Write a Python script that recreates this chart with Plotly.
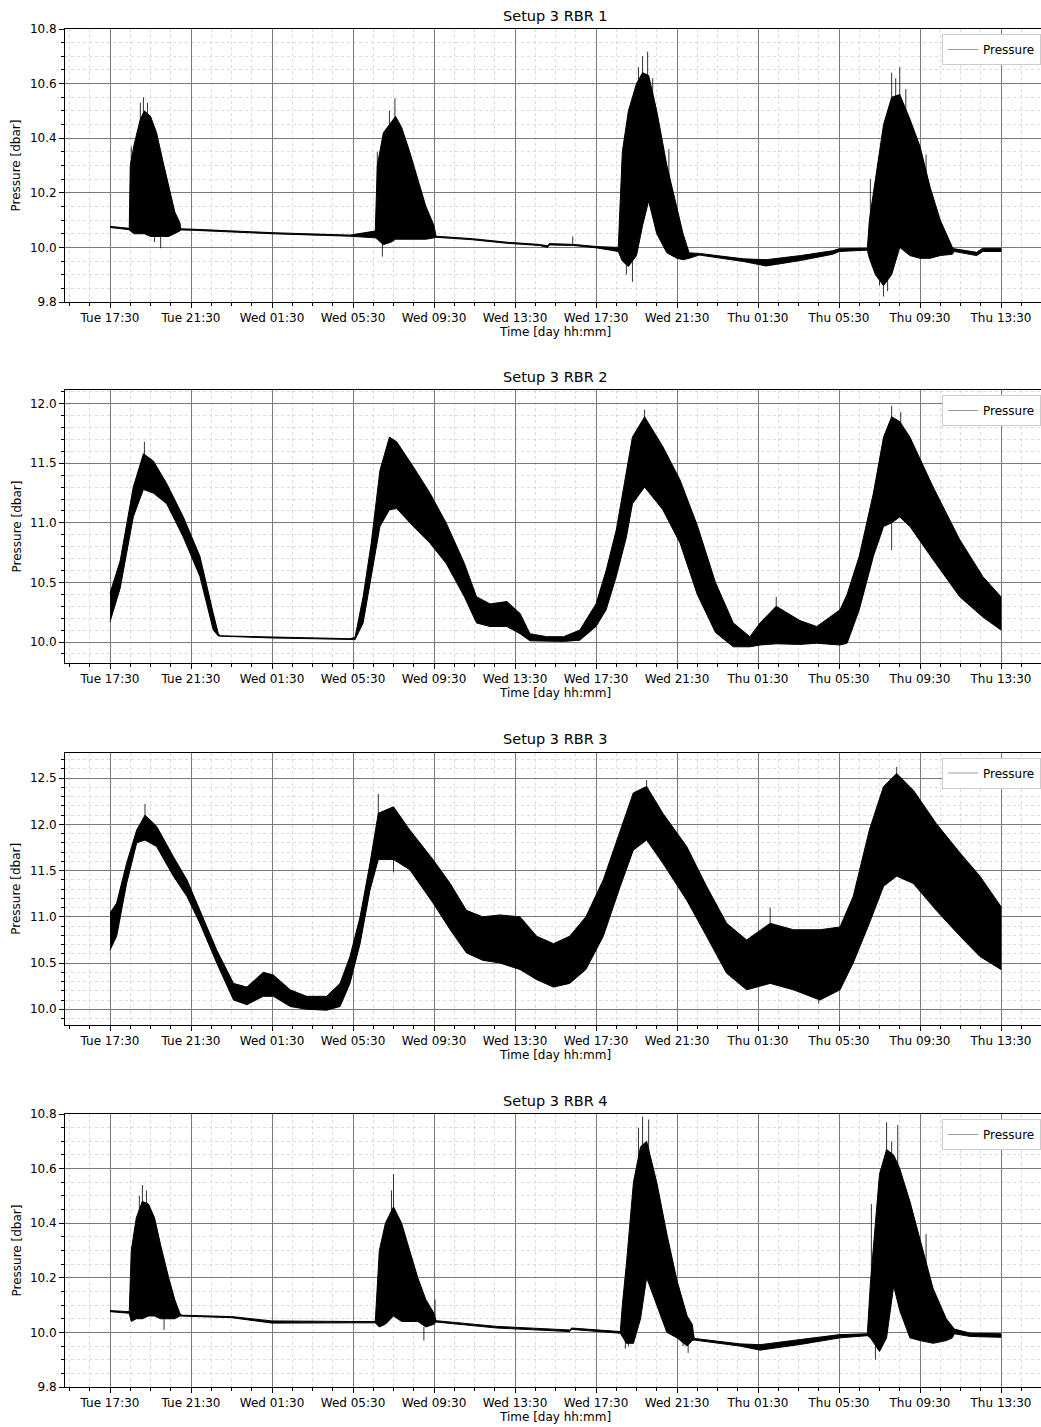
import pandas as pd
import plotly.graph_objects as go

# ---- time base: hours after Tue 17:30 ----
START = pd.Timestamp("2024-01-02 17:30")   # a Tuesday

# ---------------- Setup 3 RBR 1 ----------------
rbr1_t = [0, 0.95, 1.0, 1.2, 1.5, 1.7, 2.0, 2.3, 2.6, 2.9, 3.2, 3.45, 3.5, 4.0, 8.0, 11.85,
          13.1, 13.2, 13.5, 13.9, 14.1, 14.4, 14.8, 15.2, 15.6, 16.0, 16.1, 17.9, 19.6, 21.2,
          21.6, 21.7, 22.9, 24.05, 25.1, 25.3, 25.6, 26.0, 26.3, 26.6, 27.0, 27.5, 28.0, 28.3,
          28.6, 29.1, 31.3, 32.4, 34.1, 35.7, 36.0, 37.4, 37.5, 37.8, 38.2, 38.6, 39.0, 39.5,
          40.0, 40.5, 41.0, 41.6, 41.7, 42.8, 43.1, 44.0]
rbr1_hi = [10.077, 10.070, 10.30, 10.38, 10.47, 10.50, 10.48, 10.42, 10.32, 10.22, 10.13, 10.09,
           10.068, 10.067, 10.054, 10.045, 10.06, 10.30, 10.42, 10.46, 10.48, 10.44, 10.35, 10.25,
           10.15, 10.08, 10.041, 10.032, 10.019, 10.011, 10.006, 10.014, 10.011, 10.003, 10.0,
           10.35, 10.50, 10.60, 10.64, 10.63, 10.50, 10.30, 10.15, 10.05, 9.98, 9.978, 9.958,
           9.955, 9.970, 9.988, 9.995, 9.997, 10.10, 10.25, 10.45, 10.55, 10.56, 10.47, 10.37,
           10.22, 10.10, 10.0, 9.995, 9.982, 9.997, 9.997]
rbr1_lo = [10.073, 10.065, 10.06, 10.05, 10.05, 10.05, 10.04, 10.04, 10.04, 10.04, 10.05, 10.06,
           10.064, 10.063, 10.050, 10.041, 10.035, 10.03, 10.01, 10.02, 10.03, 10.03, 10.03, 10.03,
           10.03, 10.035, 10.037, 10.028, 10.015, 10.007, 10.0, 10.009, 10.007, 9.998, 9.985,
           9.95, 9.93, 9.97, 10.08, 10.17, 10.05, 9.98, 9.96, 9.955, 9.96, 9.972, 9.948, 9.932,
           9.952, 9.975, 9.985, 9.99, 9.96, 9.90, 9.86, 9.90, 10.0, 9.97, 9.96, 9.96, 9.97,
           9.975, 9.985, 9.97, 9.985, 9.985]
rbr1_spike_t = [1.05, 1.5, 1.65, 1.85, 2.2, 2.5, 13.2, 13.45, 13.8, 14.07, 22.85, 25.5, 25.8,
                26.1, 26.3, 26.55, 26.8, 27.6, 37.55, 38.0, 38.2, 38.4, 38.6, 38.8, 39.0, 39.3,
                40.3]
rbr1_spike_lo = [10.20, 10.40, 10.30, 10.40, 10.02, 9.997, 10.20, 9.966, 10.40, 10.30, 10.01,
                 9.90, 9.874, 10.50, 10.50, 10.50, 10.50, 10.20, 10.10, 9.86, 9.82, 9.84, 10.40,
                 10.45, 10.40, 10.40, 10.25]
rbr1_spike_hi = [10.37, 10.53, 10.55, 10.53, 10.04, 10.04, 10.35, 10.02, 10.50, 10.546, 10.04,
                 9.95, 9.95, 10.66, 10.70, 10.717, 10.62, 10.36, 10.25, 9.92, 9.90, 9.90, 10.64,
                 10.62, 10.66, 10.58, 10.34]

# ---------------- Setup 3 RBR 2 ----------------
rbr2_t = [0, 0.5, 1.15, 1.65, 2.14, 2.8, 3.62, 4.44, 5.1, 5.35, 5.45, 8.0, 11.85, 12.1, 12.5,
          12.9, 13.33, 13.8, 14.16, 14.98, 15.8, 16.6, 17.5, 18.1, 18.77, 19.6, 20.25, 20.74,
          21.56, 22.4, 23.2, 24.0, 24.5, 25.0, 25.5, 25.8, 26.4, 27.3, 28.15, 29.0, 29.9, 30.78,
          31.6, 32.1, 32.9, 34.07, 34.9, 36.05, 36.4, 37.0, 37.7, 38.2, 38.6, 39.0, 39.5, 40.65,
          41.96, 43.1, 44.0]
rbr2_hi = [10.41, 10.68, 11.30, 11.58, 11.52, 11.33, 11.05, 10.72, 10.24, 10.07, 10.052, 10.040,
           10.028, 10.04, 10.38, 10.83, 11.44, 11.72, 11.68, 11.47, 11.25, 11.00, 10.66, 10.38,
           10.32, 10.34, 10.24, 10.07, 10.045, 10.045, 10.10, 10.32, 10.60, 10.94, 11.44, 11.72,
           11.89, 11.64, 11.36, 10.98, 10.50, 10.16, 10.045, 10.16, 10.30, 10.18, 10.13, 10.27,
           10.40, 10.72, 11.25, 11.72, 11.89, 11.85, 11.72, 11.30, 10.86, 10.55, 10.38]
rbr2_lo = [10.17, 10.45, 11.05, 11.28, 11.25, 11.16, 10.88, 10.55, 10.10, 10.05, 10.046, 10.034,
           10.022, 10.02, 10.16, 10.55, 10.97, 11.11, 11.12, 10.97, 10.83, 10.66, 10.38, 10.16,
           10.13, 10.13, 10.07, 10.01, 10.005, 10.005, 10.015, 10.13, 10.27, 10.55, 10.88, 11.16,
           11.30, 11.11, 10.83, 10.40, 10.08, 9.96, 9.96, 9.975, 9.985, 9.98, 9.99, 9.975, 9.99,
           10.27, 10.72, 10.97, 11.00, 11.05, 10.97, 10.69, 10.38, 10.21, 10.10]
rbr2_spike_t = [1.7, 26.4, 32.9, 38.6, 38.6, 39.05]
rbr2_spike_lo = [11.50, 11.70, 10.20, 10.77, 11.80, 11.70]
rbr2_spike_hi = [11.68, 11.95, 10.38, 11.00, 11.98, 11.93]

# ---------------- Setup 3 RBR 3 ----------------
rbr3_t = [0, 0.33, 0.82, 1.32, 1.73, 2.3, 3.13, 3.8, 4.44, 5.27, 6.1, 6.76, 7.57, 8.07, 8.9,
          9.71, 10.7, 11.36, 11.85, 12.35, 12.84, 13.25, 14.0, 14.8, 15.95, 16.8, 17.6, 18.4,
          19.26, 20.25, 21.07, 21.9, 22.7, 23.5, 24.36, 25.2, 25.84, 26.5, 27.3, 28.48, 29.46,
          30.45, 31.44, 32.6, 33.75, 35.06, 36.05, 36.7, 37.5, 38.2, 38.85, 39.67, 40.8, 41.98,
          42.96, 44.0]
rbr3_hi = [11.04, 11.15, 11.58, 11.94, 12.10, 11.98, 11.65, 11.40, 11.07, 10.64, 10.28, 10.24,
           10.40, 10.37, 10.21, 10.14, 10.14, 10.28, 10.57, 11.00, 11.58, 12.12, 12.19, 11.94,
           11.62, 11.36, 11.07, 11.00, 11.02, 11.00, 10.79, 10.71, 10.79, 11.00, 11.40, 11.94,
           12.34, 12.41, 12.12, 11.76, 11.33, 10.93, 10.75, 10.93, 10.86, 10.86, 10.89, 11.22,
           11.94, 12.41, 12.55, 12.37, 12.01, 11.69, 11.44, 11.11]
rbr3_lo = [10.64, 10.79, 11.36, 11.80, 11.83, 11.76, 11.44, 11.22, 10.93, 10.50, 10.10, 10.05,
           10.14, 10.14, 10.03, 10.00, 9.99, 10.03, 10.28, 10.71, 11.29, 11.62, 11.62, 11.51,
           11.15, 10.86, 10.61, 10.53, 10.50, 10.43, 10.32, 10.24, 10.28, 10.43, 10.79, 11.33,
           11.72, 11.83, 11.58, 11.18, 10.79, 10.39, 10.21, 10.28, 10.21, 10.10, 10.21, 10.50,
           10.93, 11.33, 11.44, 11.36, 11.07, 10.79, 10.57, 10.43]
rbr3_spike_t = [1.73, 13.25, 14.0, 26.5, 32.6, 35.0, 38.85]
rbr3_spike_lo = [12.00, 12.10, 11.48, 12.30, 10.90, 10.06, 12.50]
rbr3_spike_hi = [12.22, 12.33, 11.70, 12.48, 11.10, 10.15, 12.62]

# ---------------- Setup 3 RBR 4 ----------------
rbr4_t = [0, 0.95, 1.05, 1.3, 1.6, 1.9, 2.2, 2.5, 2.9, 3.2, 3.45, 3.55, 6.0, 8.0, 11.85, 13.1,
          13.3, 13.6, 14.0, 14.4, 14.8, 15.2, 15.6, 16.0, 16.1, 19.1, 22.7, 22.8, 25.2, 25.3,
          25.5, 25.85, 26.2, 26.5, 27.0, 27.5, 28.0, 28.5, 28.75, 28.85, 31.1, 32.1, 34.1, 36.05,
          37.4, 37.55, 38.0, 38.35, 38.7, 39.0, 39.5, 40.0, 40.65, 41.3, 41.6, 41.7, 42.5, 44.0]
rbr4_hi = [10.080, 10.076, 10.30, 10.42, 10.48, 10.47, 10.42, 10.32, 10.20, 10.12, 10.07, 10.063,
           10.058, 10.042, 10.040, 10.040, 10.30, 10.40, 10.46, 10.40, 10.30, 10.20, 10.12, 10.07,
           10.043, 10.022, 10.009, 10.016, 10.003, 10.10, 10.25, 10.55, 10.68, 10.70, 10.55, 10.36,
           10.19, 10.06, 10.03, 9.978, 9.958, 9.955, 9.974, 9.992, 9.995, 10.18, 10.58, 10.67,
           10.65, 10.60, 10.48, 10.34, 10.16, 10.05, 10.02, 10.012, 9.997, 9.995]
rbr4_lo = [10.076, 10.070, 10.04, 10.05, 10.05, 10.06, 10.06, 10.05, 10.05, 10.05, 10.06, 10.058,
           10.054, 10.034, 10.035, 10.035, 10.02, 10.03, 10.06, 10.04, 10.04, 10.04, 10.02, 10.03,
           10.038, 10.016, 10.003, 10.011, 9.997, 9.984, 9.96, 9.96, 10.05, 10.20, 10.10, 10.00,
           9.98, 9.95, 9.97, 9.972, 9.950, 9.935, 9.956, 9.980, 9.988, 9.98, 9.93, 9.98, 10.17,
           10.08, 9.98, 9.97, 9.96, 9.97, 9.98, 9.995, 9.985, 9.982]
rbr4_spike_t = [1.45, 1.6, 1.8, 2.67, 13.9, 14.0, 15.5, 16.05, 25.45, 25.6, 26.1, 26.3, 26.6,
                28.3, 28.55, 37.6, 37.8, 38.35, 38.6, 38.9, 40.3]
rbr4_spike_lo = [10.35, 10.40, 10.40, 10.009, 10.35, 10.40, 9.97, 10.05, 9.94, 9.948, 10.60, 10.60,
                 10.60, 9.95, 9.925, 10.10, 9.90, 10.60, 10.55, 10.60, 10.25]
rbr4_spike_hi = [10.50, 10.54, 10.52, 10.05, 10.52, 10.58, 10.02, 10.12, 9.99, 9.99, 10.75, 10.79,
                 10.78, 9.98, 9.96, 10.47, 9.95, 10.77, 10.70, 10.76, 10.36]

panels = [
    ("Setup 3 RBR 1", rbr1_t, rbr1_hi, rbr1_lo, rbr1_spike_t, rbr1_spike_lo, rbr1_spike_hi),
    ("Setup 3 RBR 2", rbr2_t, rbr2_hi, rbr2_lo, rbr2_spike_t, rbr2_spike_lo, rbr2_spike_hi),
    ("Setup 3 RBR 3", rbr3_t, rbr3_hi, rbr3_lo, rbr3_spike_t, rbr3_spike_lo, rbr3_spike_hi),
    ("Setup 3 RBR 4", rbr4_t, rbr4_hi, rbr4_lo, rbr4_spike_t, rbr4_spike_lo, rbr4_spike_hi),
]

# axis settings per panel: y range, major step, minor step
y_ranges = [[9.8, 10.8], [9.824, 12.115], [9.83, 12.777], [9.8, 10.8]]
y_major = [0.2, 0.5, 0.5, 0.2]
y_minor = [0.05, 0.1, 0.1, 0.05]
y_tick0 = [9.8, 10.0, 10.0, 9.8]

# ---- page geometry (pixels) ----
W, H = 1041, 1427
LEFT = 65
PX_PER_HOUR = 20.25
TICK_ORIGIN_PX = 110           # where Tue 17:30 sits
panel_top = [29, 390, 752.5, 1114]
panel_bot = [302, 663, 1025, 1387]

def hours_to_time(hours):
    return START + pd.to_timedelta(hours, unit="h")

x_lo = hours_to_time((LEFT - TICK_ORIGIN_PX) / PX_PER_HOUR)
x_hi = hours_to_time((W - TICK_ORIGIN_PX) / PX_PER_HOUR)

FONT = "DejaVu Sans"
fig = go.Figure()
annotations = []
layout = {}

for i, (title, t, hi, lo, st, slo, shi) in enumerate(panels):
    n = i + 1
    assert len(t) == len(hi) == len(lo), title
    assert len(st) == len(slo) == len(shi), title
    xa = "x" if n == 1 else f"x{n}"
    ya = "y" if n == 1 else f"y{n}"
    leg = "legend" if n == 1 else f"legend{n}"

    times = list(hours_to_time(pd.Series(t)))
    # envelope of the pressure record drawn as a filled band
    fig.add_trace(go.Scatter(
        x=times + times[::-1], y=list(hi) + list(lo)[::-1],
        mode="lines", fill="toself", fillcolor="black",
        line=dict(color="black", width=1), hoverinfo="skip",
        showlegend=False, xaxis=xa, yaxis=ya))

    # individual wave spikes
    sx, sy = [], []
    stimes = list(hours_to_time(pd.Series(st)))
    for tt, a, b in zip(stimes, slo, shi):
        sx += [tt, tt, None]
        sy += [a, b, None]
    fig.add_trace(go.Scatter(x=sx, y=sy, mode="lines",
                             line=dict(color="rgba(0,0,0,0.8)", width=1),
                             showlegend=False, hoverinfo="skip",
                             xaxis=xa, yaxis=ya))

    # legend entry
    fig.add_trace(go.Scatter(x=[None], y=[None], mode="lines", name="Pressure",
                             line=dict(color="#9a9a9a", width=1),
                             legend=leg, xaxis=xa, yaxis=ya))

    dom = [1 - panel_bot[i] / H, 1 - panel_top[i] / H]
    xkey = "xaxis" if n == 1 else f"xaxis{n}"
    ykey = "yaxis" if n == 1 else f"yaxis{n}"
    layout[xkey] = dict(
        domain=[0, 1], anchor=ya, type="date", range=[x_lo, x_hi],
        tick0=START, dtick=4 * 3600 * 1000, tickformat="%a %H:%M",
        ticks="outside", ticklen=5, tickwidth=1, tickcolor="black",
        showline=True, linecolor="black", linewidth=1, mirror=True,
        showgrid=True, gridcolor="#7a7a7a", gridwidth=1.2,
        tickfont=dict(family=FONT, size=12, color="black"),
        minor=dict(dtick=3600 * 1000, tick0=START, ticks="outside", ticklen=3,
                   tickcolor="black", showgrid=True, gridcolor="#dcdcdc",
                   griddash="dot", gridwidth=1),
        zeroline=False, automargin=False, fixedrange=True)
    layout[ykey] = dict(
        domain=dom, anchor=xa, range=y_ranges[i],
        tick0=y_tick0[i], dtick=y_major[i], tickformat=".1f",
        ticks="outside", ticklen=5, tickwidth=1, tickcolor="black",
        showline=True, linecolor="black", linewidth=1,
        showgrid=True, gridcolor="#7a7a7a", gridwidth=1.2,
        tickfont=dict(family=FONT, size=12, color="black"),
        minor=dict(dtick=y_minor[i], tick0=y_tick0[i], ticks="outside", ticklen=3,
                   tickcolor="black", showgrid=True, gridcolor="#dcdcdc",
                   griddash="dot", gridwidth=1),
        zeroline=False, automargin=False, fixedrange=True)
    layout[leg] = dict(
        x=1, xanchor="right", xref="paper",
        y=1 - (panel_top[i] + 5) / H, yanchor="top", yref="paper",
        bgcolor="white", bordercolor="#cccccc", borderwidth=1,
        font=dict(family=FONT, size=12, color="black"),
        itemwidth=30, tracegroupgap=0)

    # panel title, axis titles
    xc = (555 - LEFT) / (W - LEFT)
    annotations.append(dict(text=title, xref="paper", yref="paper",
                            x=xc, y=1 - (panel_top[i] - 13) / H,
                            xanchor="center", yanchor="middle", showarrow=False,
                            font=dict(family=FONT, size=14.5, color="black")))
    annotations.append(dict(text="Time [day hh:mm]", xref="paper", yref="paper",
                            x=xc, y=1 - (panel_bot[i] + 30) / H,
                            xanchor="center", yanchor="middle", showarrow=False,
                            font=dict(family=FONT, size=12, color="black")))
    annotations.append(dict(text="Pressure [dbar]", xref="paper", yref="paper",
                            x=-(LEFT - 16) / (W - LEFT),
                            y=1 - (panel_top[i] + panel_bot[i]) / 2 / H,
                            xanchor="center", yanchor="middle", textangle=-90,
                            showarrow=False,
                            font=dict(family=FONT, size=12, color="black")))

fig.update_layout(
    width=W, height=H,
    margin=dict(l=LEFT, r=0, t=0, b=0),
    paper_bgcolor="white", plot_bgcolor="white",
    font=dict(family=FONT, size=12, color="black"),
    annotations=annotations,
    **layout)

fig.write_html("out.html")
